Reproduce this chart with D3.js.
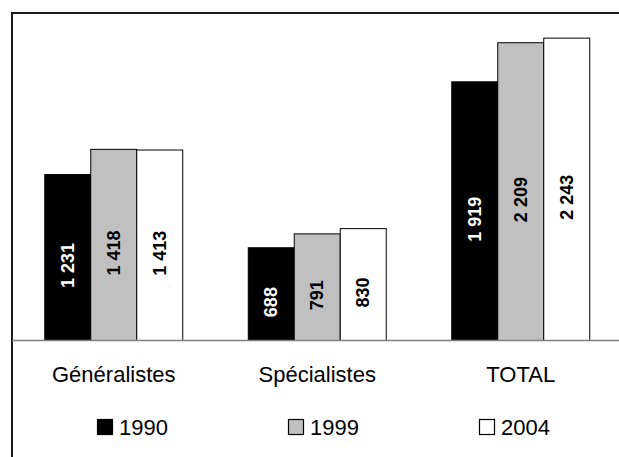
<!DOCTYPE html>
<html>
<head>
<meta charset="utf-8">
<script src="https://cdn.jsdelivr.net/npm/d3@7"></script>
<style>
  body { margin: 0; background: #fff; }
  svg { display: block; font-family: "Liberation Sans", Arial, sans-serif; }
</style>
</head>
<body>
<div id="chart"></div>
<script>
var categories = ["Généralistes", "Spécialistes", "TOTAL"];
var years = ["1990", "1999", "2004"];
var v1990 = [1231, 688, 1919];
var v1999 = [1418, 791, 2209];
var v2004 = [1413, 830, 2243];
var fills = ["#000000", "#c0c0c0", "#ffffff"];
var labelColors = ["#ffffff", "#000000", "#000000"];

var series = [v1990, v1999, v2004];

var width = 619, height = 457;
var fontFam = "'Liberation Sans', Arial, sans-serif";

var svg = d3.select("#chart").append("svg")
  .attr("width", width)
  .attr("height", height);

var locale = d3.formatLocale({ decimal: ",", thousands: " ", grouping: [3], currency: ["", " €"] });
var fmt = locale.format(",d");

var x0 = d3.scaleBand()
  .domain(categories)
  .range([12, 622.5])
  .paddingInner(0.322)
  .paddingOuter(0.161);

var x1 = d3.scaleBand()
  .domain(years)
  .range([0, x0.bandwidth()])
  .padding(0);

var y = d3.scaleLinear().domain([0, 2500]).range([340.5, 3.5]);

// frame (partly cropped)
svg.append("rect")
  .attr("x", 12).attr("y", 13)
  .attr("width", 700).attr("height", 500)
  .attr("fill", "none")
  .attr("stroke", "#1a1a1a")
  .attr("stroke-width", 2);

// bars
var groups = svg.selectAll("g.cat")
  .data(categories)
  .enter().append("g")
  .attr("class", "cat")
  .attr("transform", function(d) { return "translate(" + x0(d) + ",0)"; });

groups.each(function(cat, ci) {
  var g = d3.select(this);
  years.forEach(function(yr, si) {
    var v = series[si][ci];
    g.append("rect")
      .attr("x", x1(yr))
      .attr("y", y(v))
      .attr("width", x1.bandwidth())
      .attr("height", y(0) - y(v))
      .attr("fill", fills[si])
      .attr("stroke", "#000")
      .attr("stroke-width", 1);
  });
});

// x axis
var xAxis = d3.axisBottom(x0).tickSize(0).tickPadding(0);
var ax = svg.append("g")
  .attr("transform", "translate(0," + y(0) + ")")
  .call(xAxis);
ax.attr("font-family", null);
ax.select(".domain").attr("d", "M12,0H619").attr("stroke", "#808080").attr("stroke-width", 1.5);
ax.selectAll("text")
  .attr("y", 41)
  .attr("dy", null)
  .attr("fill", "#000")
  .style("font-size", "22px")
  .style("font-family", fontFam);

// value labels (rotated)
groups.each(function(cat, ci) {
  var g = d3.select(this);
  years.forEach(function(yr, si) {
    var v = series[si][ci];
    var cx = x1(yr) + x1.bandwidth() / 2;
    var cy = (y(v) + y(0)) / 2 + 8;
    g.append("text")
      .attr("transform", "translate(" + cx + "," + cy + ") rotate(-90)")
      .attr("text-anchor", "middle")
      .attr("dominant-baseline", "central")
      .attr("fill", labelColors[si])
      .style("font-family", fontFam)
      .style("font-size", "18px")
      .style("font-weight", "bold")
      .text(fmt(v));
  });
});

// legend
var legendX = [97, 288, 479];
var leg = svg.selectAll("g.leg")
  .data(years)
  .enter().append("g")
  .attr("class", "leg")
  .attr("transform", function(d, i) { return "translate(" + legendX[i] + ",419)"; });

leg.append("rect")
  .attr("x", 0.5).attr("y", 0.5)
  .attr("width", 15).attr("height", 15)
  .attr("fill", function(d, i) { return fills[i]; })
  .attr("stroke", "#000")
  .attr("stroke-width", 1.2);

leg.append("text")
  .attr("x", 22)
  .attr("y", 16)
  .attr("fill", "#000")
  .style("font-family", fontFam)
  .style("font-size", "22px")
  .text(function(d) { return d; });
</script>
</body>
</html>
